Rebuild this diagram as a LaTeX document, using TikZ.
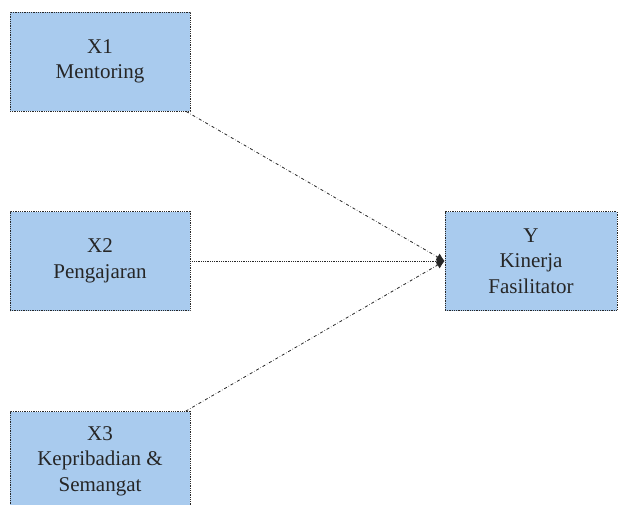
\documentclass[tikz,border=0pt]{standalone}
\usepackage{fontspec}
\setmainfont{Liberation Serif}
\newfontfamily\boxfont{Liberation Serif}
\usetikzlibrary{arrows.meta}
\definecolor{boxblue}{RGB}{169,203,238}
\definecolor{boxline}{RGB}{40,40,40}

\begin{document}
\begin{tikzpicture}[x=1pt,y=-1pt,
  var/.style={draw=boxline,densely dotted,line width=0.8pt,fill=boxblue,minimum width=180pt,minimum height=99pt,
    align=center,inner sep=0pt,font=\boxfont\fontsize{21}{25.5}\selectfont,text=black!85},
  link/.style={->,dash dot,line width=0.8pt,black!85},
  >={Latex[length=8pt,width=8pt]}]
\useasboundingbox (0,0) rectangle (618,504);
\clip (0,0) rectangle (618,504);
\node[var] (X1) at (100,61.5) {X1\\Mentoring};
\node[var] (X2) at (100,261) {X2\\Pengajaran};
\node[var] (X3) at (100,461) {X3\\Kepribadian \&\\Semangat};
\node[var,minimum width=172pt] (Y) at (531,261) {Y\\Kinerja\\Fasilitator};
\path[link]
(X1) edge (Y.west)
(X2) edge[densely dotted] (Y.west)
(X3) edge (Y.west);
\end{tikzpicture}
\end{document}
